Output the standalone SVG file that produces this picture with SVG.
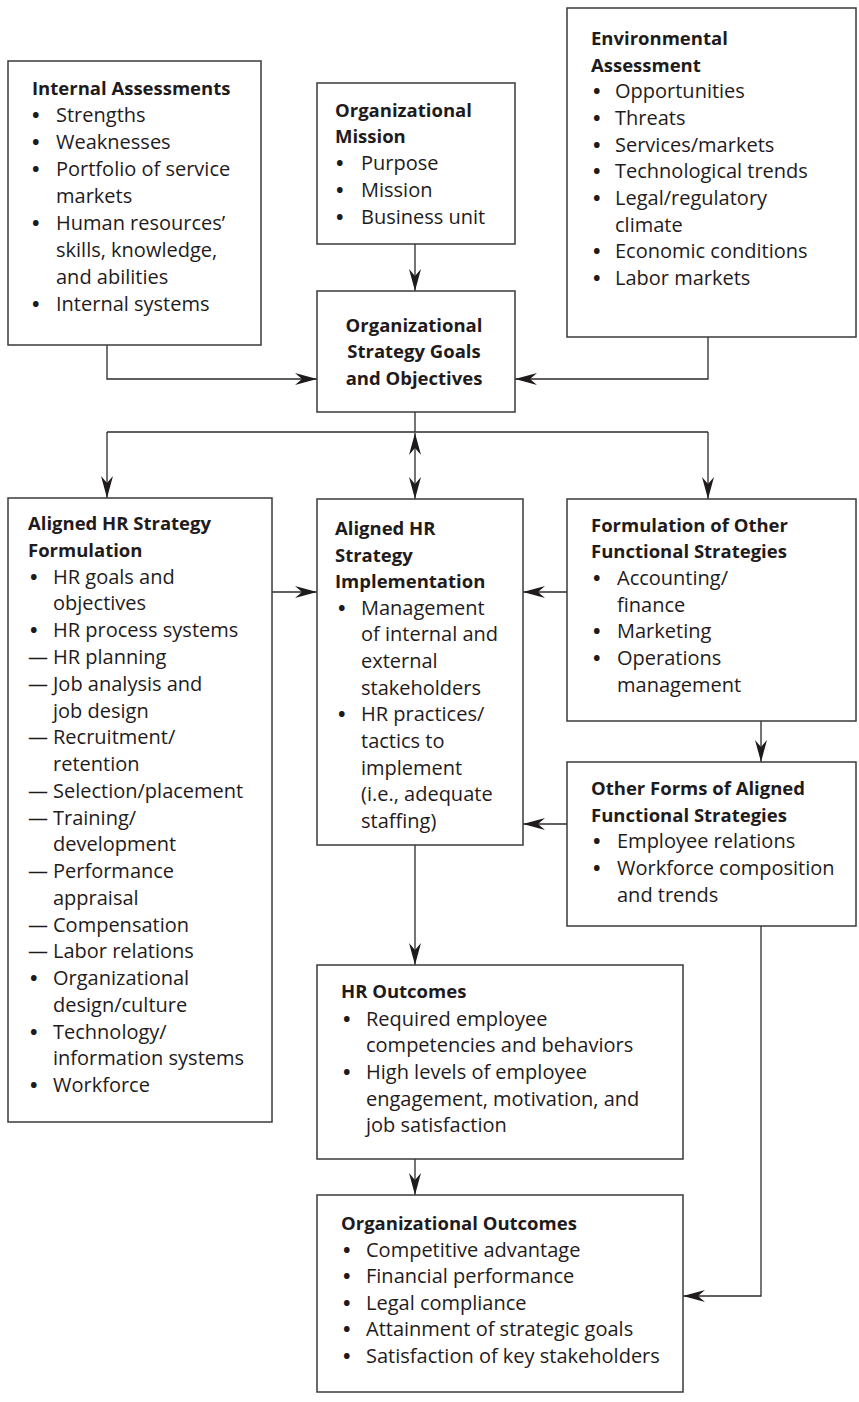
<svg xmlns="http://www.w3.org/2000/svg" width="859" height="1402" viewBox="0 0 859 1402">
<defs>
<style>
.box{fill:#fff;stroke:#3a3a3a;stroke-width:1.5}
.ln{fill:none;stroke:#2b2b2b;stroke-width:1.3}
.t{font-family:"Open Sans","Noto Sans",sans-serif;font-size:20px;fill:#1f1b1c}
.d{font-family:"Open Sans","Noto Sans",sans-serif;font-size:20px;font-weight:700;fill:#1f1b1c}
.b{font-family:"Open Sans","Noto Sans",sans-serif;font-size:18.5px;font-weight:700;fill:#1f1b1c}
</style>
<marker id="ah" viewBox="0 0 22 12" refX="22" refY="6" markerWidth="22" markerHeight="12" markerUnits="userSpaceOnUse" orient="auto-start-reverse">
<path d="M22,6 L0,0 L7,6 L0,12 Z" fill="#1f1b1c"/>
</marker>
</defs>
<rect width="859" height="1402" fill="#fff"/>

<g id="connectors">
<path class="ln" d="M107,345 V379 H317" marker-end="url(#ah)"/>
<path class="ln" d="M708,337 V379 H515" marker-end="url(#ah)"/>
<path class="ln" d="M415,244 V291" marker-end="url(#ah)"/>
<path class="ln" d="M415,412 V432 M107,432 H708"/>
<path class="ln" d="M107,432 V498" marker-end="url(#ah)"/>
<path class="ln" d="M708,432 V499" marker-end="url(#ah)"/>
<path class="ln" d="M415,433 V499" marker-start="url(#ah)" marker-end="url(#ah)"/>
<path class="ln" d="M272,592 H317" marker-end="url(#ah)"/>
<path class="ln" d="M567,592 H523" marker-end="url(#ah)"/>
<path class="ln" d="M567,824 H523" marker-end="url(#ah)"/>
<path class="ln" d="M761,721 V762" marker-end="url(#ah)"/>
<path class="ln" d="M415,845 V965" marker-end="url(#ah)"/>
<path class="ln" d="M415,1159 V1195" marker-end="url(#ah)"/>
<path class="ln" d="M761,926 V1296 H683" marker-end="url(#ah)"/>
</g>

<g id="internal-assessments">
<rect class="box" x="8" y="61" width="253" height="284"/>
<text class="b" x="32" y="95">Internal Assessments</text>
<text class="d" x="32" y="122">•</text><text class="t" x="56" y="122">Strengths</text>
<text class="d" x="32" y="149">•</text><text class="t" x="56" y="149">Weaknesses</text>
<text class="d" x="32" y="176">•</text><text class="t" x="56" y="176">Portfolio of service</text>
<text class="t" x="56" y="203">markets</text>
<text class="d" x="32" y="230">•</text><text class="t" x="56" y="230">Human resources’</text>
<text class="t" x="56" y="257">skills, knowledge,</text>
<text class="t" x="56" y="284">and abilities</text>
<text class="d" x="32" y="311">•</text><text class="t" x="56" y="311">Internal systems</text>
</g>

<g id="organizational-mission">
<rect class="box" x="317" y="83" width="198" height="161"/>
<text class="b" x="335" y="117">Organizational</text>
<text class="b" x="335" y="143">Mission</text>
<text class="d" x="336" y="170">•</text><text class="t" x="361" y="170">Purpose</text>
<text class="d" x="336" y="197">•</text><text class="t" x="361" y="197">Mission</text>
<text class="d" x="336" y="224">•</text><text class="t" x="361" y="224">Business unit</text>
</g>

<g id="environmental-assessment">
<rect class="box" x="567" y="8" width="289" height="329"/>
<text class="b" x="591" y="45">Environmental</text>
<text class="b" x="591" y="72">Assessment</text>
<text class="d" x="593" y="98">•</text><text class="t" x="615" y="98">Opportunities</text>
<text class="d" x="593" y="125">•</text><text class="t" x="615" y="125">Threats</text>
<text class="d" x="593" y="152">•</text><text class="t" x="615" y="152">Services/markets</text>
<text class="d" x="593" y="178">•</text><text class="t" x="615" y="178">Technological trends</text>
<text class="d" x="593" y="205">•</text><text class="t" x="615" y="205">Legal/regulatory</text>
<text class="t" x="615" y="232">climate</text>
<text class="d" x="593" y="258">•</text><text class="t" x="615" y="258">Economic conditions</text>
<text class="d" x="593" y="285">•</text><text class="t" x="615" y="285">Labor markets</text>
</g>

<g id="organizational-strategy">
<rect class="box" x="317" y="291" width="198" height="121"/>
<text class="b" x="414" y="332" text-anchor="middle">Organizational</text>
<text class="b" x="414" y="358" text-anchor="middle">Strategy Goals</text>
<text class="b" x="414" y="385" text-anchor="middle">and Objectives</text>
</g>

<g id="hr-strategy-formulation">
<rect class="box" x="8" y="498" width="264" height="624"/>
<text class="b" x="28" y="530">Aligned HR Strategy</text>
<text class="b" x="28" y="557">Formulation</text>
<text class="d" x="30" y="584">•</text><text class="t" x="53" y="584">HR goals and</text>
<text class="t" x="53" y="610">objectives</text>
<text class="d" x="30" y="637">•</text><text class="t" x="53" y="637">HR process systems</text>
<text class="t" x="28" y="664">—</text><text class="t" x="53" y="664">HR planning</text>
<text class="t" x="28" y="691">—</text><text class="t" x="53" y="691">Job analysis and</text>
<text class="t" x="53" y="718">job design</text>
<text class="t" x="28" y="744">—</text><text class="t" x="53" y="744">Recruitment/</text>
<text class="t" x="53" y="771">retention</text>
<text class="t" x="28" y="798">—</text><text class="t" x="53" y="798">Selection/placement</text>
<text class="t" x="28" y="825">—</text><text class="t" x="53" y="825">Training/</text>
<text class="t" x="53" y="851">development</text>
<text class="t" x="28" y="878">—</text><text class="t" x="53" y="878">Performance</text>
<text class="t" x="53" y="905">appraisal</text>
<text class="t" x="28" y="932">—</text><text class="t" x="53" y="932">Compensation</text>
<text class="t" x="28" y="958">—</text><text class="t" x="53" y="958">Labor relations</text>
<text class="d" x="30" y="985">•</text><text class="t" x="53" y="985">Organizational</text>
<text class="t" x="53" y="1012">design/culture</text>
<text class="d" x="30" y="1039">•</text><text class="t" x="53" y="1039">Technology/</text>
<text class="t" x="53" y="1065">information systems</text>
<text class="d" x="30" y="1092">•</text><text class="t" x="53" y="1092">Workforce</text>
</g>

<g id="hr-strategy-implementation">
<rect class="box" x="317" y="499" width="206" height="346"/>
<text class="b" x="335" y="535">Aligned HR</text>
<text class="b" x="335" y="562">Strategy</text>
<text class="b" x="335" y="588">Implementation</text>
<text class="d" x="338" y="615">•</text><text class="t" x="361" y="615">Management</text>
<text class="t" x="361" y="641">of internal and</text>
<text class="t" x="361" y="668">external</text>
<text class="t" x="361" y="695">stakeholders</text>
<text class="d" x="338" y="721">•</text><text class="t" x="361" y="721">HR practices/</text>
<text class="t" x="361" y="748">tactics to</text>
<text class="t" x="361" y="775">implement</text>
<text class="t" x="361" y="801">(i.e., adequate</text>
<text class="t" x="361" y="828">staffing)</text>
</g>

<g id="other-functional-strategies">
<rect class="box" x="567" y="499" width="289" height="222"/>
<text class="b" x="591" y="532">Formulation of Other</text>
<text class="b" x="591" y="558">Functional Strategies</text>
<text class="d" x="593" y="585">•</text><text class="t" x="617" y="585">Accounting/</text>
<text class="t" x="617" y="612">finance</text>
<text class="d" x="593" y="638">•</text><text class="t" x="617" y="638">Marketing</text>
<text class="d" x="593" y="665">•</text><text class="t" x="617" y="665">Operations</text>
<text class="t" x="617" y="692">management</text>
</g>

<g id="other-aligned-strategies">
<rect class="box" x="567" y="762" width="289" height="164"/>
<text class="b" x="591" y="795">Other Forms of Aligned</text>
<text class="b" x="591" y="822">Functional Strategies</text>
<text class="d" x="593" y="848">•</text><text class="t" x="617" y="848">Employee relations</text>
<text class="d" x="593" y="875">•</text><text class="t" x="617" y="875">Workforce composition</text>
<text class="t" x="617" y="902">and trends</text>
</g>

<g id="hr-outcomes">
<rect class="box" x="317" y="965" width="366" height="194"/>
<text class="b" x="341" y="998">HR Outcomes</text>
<text class="d" x="343" y="1026">•</text><text class="t" x="366" y="1026">Required employee</text>
<text class="t" x="366" y="1052">competencies and behaviors</text>
<text class="d" x="343" y="1079">•</text><text class="t" x="366" y="1079">High levels of employee</text>
<text class="t" x="366" y="1106">engagement, motivation, and</text>
<text class="t" x="366" y="1132">job satisfaction</text>
</g>

<g id="organizational-outcomes">
<rect class="box" x="317" y="1195" width="366" height="197"/>
<text class="b" x="341" y="1230">Organizational Outcomes</text>
<text class="d" x="343" y="1257">•</text><text class="t" x="366" y="1257">Competitive advantage</text>
<text class="d" x="343" y="1283">•</text><text class="t" x="366" y="1283">Financial performance</text>
<text class="d" x="343" y="1310">•</text><text class="t" x="366" y="1310">Legal compliance</text>
<text class="d" x="343" y="1336">•</text><text class="t" x="366" y="1336">Attainment of strategic goals</text>
<text class="d" x="343" y="1363">•</text><text class="t" x="366" y="1363">Satisfaction of key stakeholders</text>
</g>
</svg>
